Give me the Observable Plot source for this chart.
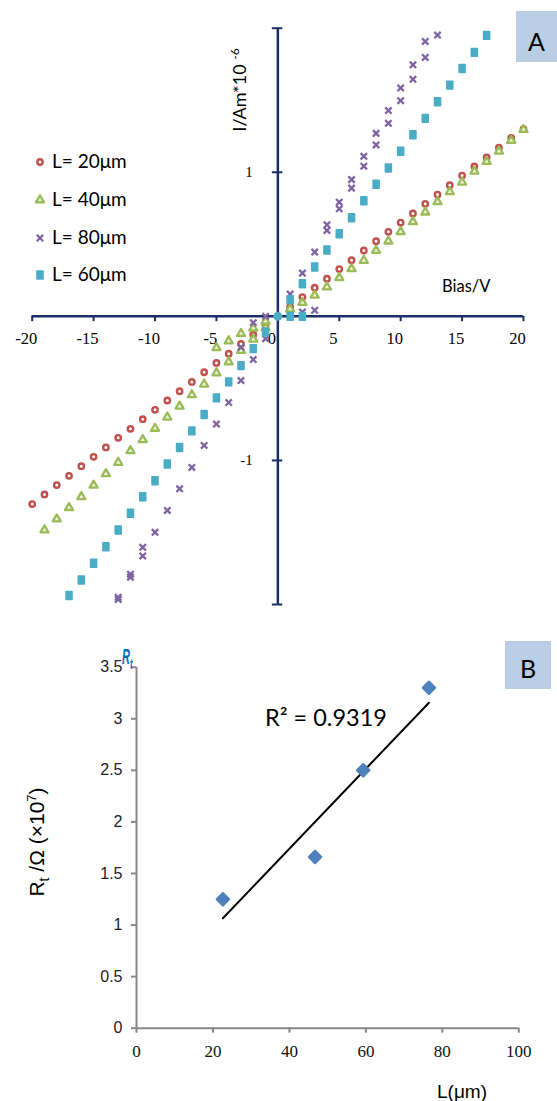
<!DOCTYPE html>
<html><head><meta charset="utf-8">
<script src="https://cdn.jsdelivr.net/npm/d3@7"></script>
<script src="https://cdn.jsdelivr.net/npm/@observablehq/plot@0.6"></script>
<style>
body{margin:0;background:#fff;}
#wrap{position:relative;width:557px;height:1101px;overflow:hidden;font-family:Lato,sans-serif;color:#000;}
#wrap > svg{position:absolute;left:0;}
.lbl{position:absolute;white-space:nowrap;line-height:1;}
.box{position:absolute;background:#B9CDE5;}
</style></head><body><div id="wrap"></div>
<script>
// ---------- Panel A data (Bias / V, current I / A ×10^-6) ----------
const biasL20 = [-20,-19,-18,-17,-16,-15,-14,-13,-12,-11,-10,-9,-8,-7,-6,-5,-4,-3,-2,-1,1,2,3,4,5,6,7,8,9,10,11,12,13,14,15,16,17,18,19,20];
const currL20 = [-1.303,-1.236,-1.171,-1.107,-1.04,-0.975,-0.91,-0.843,-0.781,-0.714,-0.649,-0.584,-0.52,-0.455,-0.388,-0.323,-0.259,-0.192,-0.127,-0.062,0.065,0.134,0.199,0.261,0.328,0.39,0.457,0.522,0.587,0.651,0.714,0.781,0.845,0.91,0.977,1.04,1.104,1.171,1.238,1.30];

const biasL40 = [-19,-18,-17,-16,-15,-14,-13,-12,-11,-10,-9,-8,-7,-6,-5,-4,-3,-2,-1,-5,-4,-3,-2,-1,1,2,3,4,5,6,7,8,9,10,11,12,13,14,15,16,17,18,19,20];
const currL40 = [-1.483,-1.407,-1.328,-1.252,-1.173,-1.093,-1.014,-0.933,-0.857,-0.778,-0.70,-0.624,-0.545,-0.471,-0.393,-0.317,-0.238,-0.159,-0.079,-0.218,-0.171,-0.12,-0.082,-0.035,0.05,0.096,0.146,0.203,0.268,0.33,0.388,0.457,0.522,0.587,0.656,0.723,0.795,0.864,0.931,1.007,1.074,1.146,1.22,1.296];

const biasL80 = [-13,-13,-12,-12,-11,-11,-10,-9,-8,-7,-6,-5,-4,-3,-3,-2,-2,-1,-1,1,2,2,3,3,4,4,5,5,6,6,7,7,8,8,9,9,10,10,11,11,12,12,13];
const currL80 = [-1.95,-1.965,-1.79,-1.81,-1.603,-1.663,-1.499,-1.347,-1.197,-1.049,-0.896,-0.748,-0.598,-0.446,-0.215,-0.30,-0.044,-0.155,0.0,0.155,0.30,0.03,0.446,0.042,0.635,0.596,0.792,0.746,0.949,0.89,1.111,1.042,1.27,1.19,1.428,1.34,1.585,1.497,1.746,1.645,1.908,1.797,1.952];

const biasL60 = [-17,-16,-15,-14,-13,-12,-11,-10,-9,-8,-7,-6,-5,-4,-3,-2,-1,1,1,2,2,3,4,5,6,7,8,9,10,11,12,13,14,15,16,17];
const currL60 = [-1.938,-1.83,-1.714,-1.599,-1.483,-1.367,-1.252,-1.141,-1.025,-0.91,-0.795,-0.681,-0.566,-0.455,-0.342,-0.224,-0.109,0.0,0.116,0.0,0.226,0.342,0.46,0.573,0.684,0.802,0.917,1.03,1.146,1.261,1.374,1.49,1.605,1.72,1.832,1.95];

const originBias = [0];
const originCurr = [0];

const seriesNames = ["L= 20\u03bcm","L= 40\u03bcm","L= 80\u03bcm","L= 60\u03bcm"];
const seriesColors = ["#C0504D","#9BBB59","#8064A2","#4BACC6"];

const xTicksA = [-20,-15,-10,-5,0,5,10,15,20];
const yTicksA = [-2,-1,1,2];
const yLabelsA = [-1,1];

// ---------- Panel B data ----------
const lengthUm = [22.6, 46.7, 59.3, 76.5];
const resistance = [1.25, 1.66, 2.5, 3.3];
const xTicksB = [0,20,40,60,80,100];
const yTicksB = [0,0.5,1,1.5,2,2.5,3,3.5];

// ---------- build ----------
const toRows = (xs, ys) => xs.map((v, k) => ({v, i: ys[k]}));
const d20 = toRows(biasL20, currL20), d40 = toRows(biasL40, currL40),
      d80 = toRows(biasL80, currL80), d60 = toRows(biasL60, currL60),
      d0 = toRows(originBias, originCurr);

const navy = "#1B2F66";
const rectSymbol = {draw(ctx, size){ const s = Math.sqrt(size); const w = s*0.8, h = s*1.05; ctx.rect(-w/2, -h/2, w, h); }};

const chartA = Plot.plot({
  width: 557, height: 620,
  marginLeft: 31.7, marginRight: 34, marginTop: 27.7, marginBottom: 16,
  x: {domain: [-20, 20], axis: null},
  y: {domain: [-2, 2], axis: null},
  marks: [
    Plot.ruleY([0], {x1: -20, x2: 20, stroke: navy, strokeWidth: 2.5}),
    Plot.ruleX([0], {y1: -2, y2: 2, stroke: navy, strokeWidth: 2.5}),
    Plot.ruleX(xTicksA, {x: d => d, y1: 0, y2: -0.037, stroke: navy, strokeWidth: 2}),
    Plot.ruleY(yTicksA, {y: d => d, x1: -0.45, x2: 0.4, stroke: navy, strokeWidth: 2}),
    Plot.text(xTicksA, {x: d => d, y: 0, dy: 22, dx: -6, text: d => String(d), fontFamily: "Liberation Serif", fontSize: 16.5, fill: "#000"}),
    Plot.text(yLabelsA, {x: 0, y: d => d, dx: -25, textAnchor: "end", text: d => String(d), fontFamily: "Liberation Serif", fontSize: 15, fill: "#000"}),
    Plot.dot(d20, {x: "v", y: "i", symbol: "circle", r: 2.7, stroke: seriesColors[0], strokeWidth: 2.4, fill: "white"}),
    Plot.dot(d40, {x: "v", y: "i", symbol: "triangle", r: 3, stroke: seriesColors[1], strokeWidth: 2.3, fill: "#eef4e2", strokeLinejoin: "round"}),
    Plot.dot(d80, {x: "v", y: "i", symbol: "times", r: 3, stroke: seriesColors[2], strokeWidth: 2.3}),
    Plot.dot(d60, {x: "v", y: "i", symbol: rectSymbol, r: 4.2, fill: seriesColors[3], stroke: seriesColors[3], strokeWidth: 1.6, strokeLinejoin: "round"}),
    Plot.dot(d0, {x: "v", y: "i", r: 4.5, fill: seriesColors[3]})
  ]
});
chartA.style.top = "0px";

const dataB = lengthUm.map((L, k) => ({L, R: resistance[k]}));
const gray = "#878787";
const chartB = Plot.plot({
  width: 557, height: 481,
  marginLeft: 136, marginRight: 38.7, marginTop: 46.7, marginBottom: 73.3,
  x: {domain: [0, 100]},
  y: {domain: [0, 3.5]},
  marks: [
    Plot.axisY({ticks: yTicksB, tickSize: 5, tickPadding: 9, stroke: gray, strokeWidth: 2, fill: "#222", fontSize: 16, fontFamily: "Liberation Sans", label: null, tickFormat: d => String(d)}),
    Plot.axisX({ticks: xTicksB, tickSize: 5, tickPadding: 12, stroke: gray, strokeWidth: 2, fill: "#111", fontSize: 17, fontFamily: "Liberation Serif", label: null, tickFormat: d => String(d)}),
    Plot.ruleX([0], {stroke: gray, strokeWidth: 2}),
    Plot.ruleY([0], {stroke: gray, strokeWidth: 2}),
    Plot.linearRegressionY(dataB, {x: "L", y: "R", stroke: "#000", strokeWidth: 2, ci: 0}),
    Plot.dot(dataB, {x: "L", y: "R", symbol: "diamond2", r: 5.6, fill: "#4F81BD", stroke: "#4F81BD", strokeWidth: 2.2, strokeLinejoin: "round"})
  ]
});
chartB.style.top = "620px";

const wrap = document.getElementById("wrap");
wrap.appendChild(chartA);
wrap.appendChild(chartB);

function addLabel(html, css){ const d = document.createElement("div"); d.className = "lbl"; d.innerHTML = html; Object.assign(d.style, css); wrap.appendChild(d); return d; }
function addBox(css){ const d = document.createElement("div"); d.className = "box"; Object.assign(d.style, css); wrap.appendChild(d); return d; }

// Panel A labels
addLabel('I/Am*10 <span style="font-size:12px;position:relative;top:-7px">-6</span>',
  {left: "239px", top: "90px", fontSize: "18px", transform: "translate(-50%,-50%) rotate(-90deg)"});
addLabel("Bias/V", {left: "442px", top: "278px", fontSize: "16.5px"});
addBox({left: "516px", top: "11px", width: "45px", height: "51px"});
addLabel("A", {left: "528px", top: "29px", fontSize: "25px"});

// Legend
const legendSymbols = [
  {sym: d3.symbolCircle, r: 2.7, fill: "white", stroke: seriesColors[0], sw: 2.4},
  {sym: d3.symbolTriangle, r: 3, fill: "#eef4e2", stroke: seriesColors[1], sw: 2.3},
  {sym: d3.symbolTimes, r: 3, fill: "none", stroke: seriesColors[2], sw: 2.3},
  {sym: rectSymbol, r: 4.2, fill: seriesColors[3], stroke: seriesColors[3], sw: 1.6}
];
const legendTop = [162, 200, 238, 275];
seriesNames.forEach((name, k) => {
  const s = legendSymbols[k];
  const path = d3.symbol(s.sym, Math.PI * s.r * s.r)();
  addLabel(`<svg width="16" height="16" viewBox="-8 -8 16 16" style="position:absolute;left:-8px;top:-8px;overflow:visible"><path d="${path}" fill="${s.fill}" stroke="${s.stroke}" stroke-width="${s.sw}" stroke-linejoin="round"/></svg>`,
    {left: "40px", top: legendTop[k] + "px", width: "0px", height: "0px"});
  addLabel(name, {left: "52px", top: (legendTop[k] - 11) + "px", fontSize: "19px"});
});

// Panel B labels
addBox({left: "505px", top: "641px", width: "46px", height: "48px"});
addLabel("B", {left: "520px", top: "656px", fontSize: "25px"});
addLabel("R\u00b2 = 0.9319", {left: "265px", top: "706px", fontSize: "23.5px"});
addLabel("L(\u03bcm)", {left: "437px", top: "1082px", fontSize: "19px", fontFamily: "Liberation Sans"});
addLabel('R<span style="font-size:14px;position:relative;top:5px">t</span> /\u03a9 (\u00d710<span style="font-size:13px;position:relative;top:-8px">7</span>)',
  {left: "36px", top: "842px", fontSize: "21px", fontFamily: "Liberation Sans", transform: "translate(-50%,-50%) rotate(-90deg)"});
addLabel('R<span style="font-size:15px;position:relative;top:5px">t</span>',
  {left: "122px", top: "646px", fontSize: "22px", fontFamily: "Liberation Sans", fontStyle: "italic", fontWeight: "bold", color: "#0070C0", transform: "scaleX(0.5)", transformOrigin: "0 0"});
</script>
</body></html>
